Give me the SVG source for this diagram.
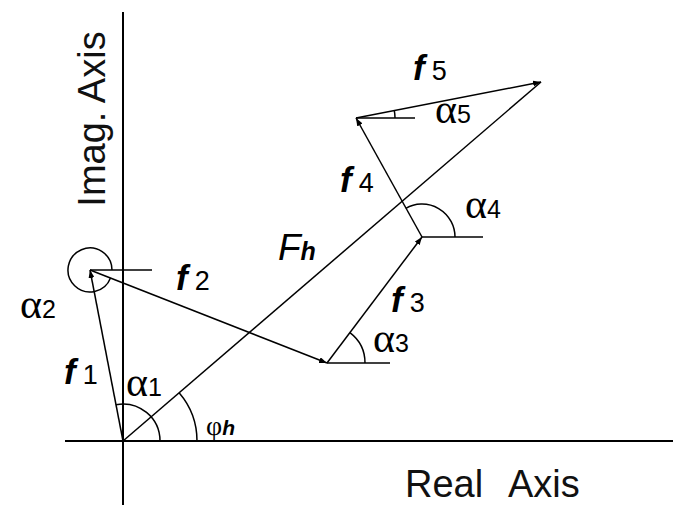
<svg xmlns="http://www.w3.org/2000/svg" width="683" height="512" viewBox="0 0 683 512">
<defs>
<style>
.ax{stroke:#000;stroke-width:2;fill:none}
.v{stroke:#000;stroke-width:1.5;fill:none}
.ref{stroke:#000;stroke-width:1.5;fill:none}
.arc{stroke:#000;stroke-width:1.5;fill:none}
.big{font-family:"Liberation Sans",Arial,sans-serif;font-size:38px;fill:#111}
.f{font-family:"Liberation Sans",Arial,sans-serif;font-size:35px;font-weight:bold;font-style:italic;fill:#000}
.d{font-family:"Liberation Sans",Arial,sans-serif;font-size:27px;fill:#000}
.al{font-family:"Liberation Serif","Times New Roman",serif;font-size:42px;fill:#000}
.ad{font-family:"Liberation Sans",Arial,sans-serif;font-size:25px;fill:#000}
.bh{font-family:"Liberation Sans",Arial,sans-serif;font-weight:bold;font-style:italic;fill:#000}
</style>
<marker id="ah" viewBox="0 0 8 6" refX="8" refY="3" markerWidth="8" markerHeight="6" markerUnits="userSpaceOnUse" orient="auto">
<path d="M0,0 L8,3 L0,6 z" fill="#000"/>
</marker>
</defs>
<rect width="683" height="512" fill="#fff"/>

<g id="axes">
<line class="ax" x1="123" y1="12" x2="123" y2="505"/>
<line class="ax" x1="65" y1="441" x2="673" y2="441"/>
<text class="big" x="0" y="0" text-anchor="middle" transform="translate(105,119) rotate(-90)">Imag. Axis</text>
<text class="big" x="405" y="497">Real <tspan x="508">Axis</tspan></text>
</g>

<g id="connectors">
<line id="f1" class="v" x1="123" y1="441" x2="90" y2="270" marker-end="url(#ah)"/>
<line id="f2" class="v" x1="90" y1="270" x2="327" y2="363" marker-end="url(#ah)"/>
<line id="f3" class="v" x1="327" y1="363" x2="422" y2="237" marker-end="url(#ah)"/>
<line id="f4" class="v" x1="422" y1="237" x2="356" y2="118" marker-end="url(#ah)"/>
<line id="f5" class="v" x1="356" y1="118" x2="541" y2="82" marker-end="url(#ah)"/>
<line id="Fh" class="v" x1="123" y1="441" x2="541" y2="82"/>
</g>

<g id="reference-lines">
<line class="ref" x1="90" y1="270" x2="152" y2="270"/>
<line class="ref" x1="327" y1="363" x2="390" y2="363"/>
<line class="ref" x1="422" y1="237" x2="483" y2="237"/>
<line class="ref" x1="356" y1="118" x2="415" y2="118"/>
</g>

<g id="angles">
<path id="arc-a1" class="arc" d="M115.9,404.7 A37,37 0 0 1 160,441"/>
<path id="arc-phi" class="arc" d="M179.1,392.7 A74,74 0 0 1 197,441"/>
<path id="arc-a2" class="arc" d="M112,270 A22,22 0 1 0 110.5,278"/>
<path id="arc-a3" class="arc" d="M349.9,332.6 A38,38 0 0 1 365,363"/>
<path id="arc-a4" class="arc" d="M405.8,208.3 A33,33 0 0 1 455,237"/>
<path id="arc-a5" class="arc" d="M394.3,110.6 A39,39 0 0 1 395,118"/>
</g>

<g id="labels">
<text x="64" y="384"><tspan class="f">f</tspan><tspan class="d" dx="7">1</tspan></text>
<text x="176" y="290"><tspan class="f">f</tspan><tspan class="d" dx="7">2</tspan></text>
<text x="391" y="312"><tspan class="f">f</tspan><tspan class="d" dx="7">3</tspan></text>
<text x="340" y="192"><tspan class="f">f</tspan><tspan class="d" dx="7">4</tspan></text>
<text x="413" y="80"><tspan class="f">f</tspan><tspan class="d" dx="7">5</tspan></text>
<text x="278" y="260"><tspan font-family="Liberation Sans, Arial, sans-serif" font-size="37" font-style="italic" fill="#000">F</tspan><tspan class="bh" font-size="25">h</tspan></text>
<text x="20" y="318"><tspan class="al">α</tspan><tspan class="ad">2</tspan></text>
<text x="126" y="396"><tspan class="al">α</tspan><tspan class="ad">1</tspan></text>
<text x="373" y="352"><tspan class="al">α</tspan><tspan class="ad">3</tspan></text>
<text x="465" y="218"><tspan class="al">α</tspan><tspan class="ad">4</tspan></text>
<text x="435" y="123"><tspan class="al">α</tspan><tspan class="ad">5</tspan></text>
<text x="206" y="435"><tspan font-family="Liberation Serif, Times New Roman, serif" font-size="28" fill="#000">φ</tspan><tspan class="bh" font-size="21">h</tspan></text>
</g>
</svg>
